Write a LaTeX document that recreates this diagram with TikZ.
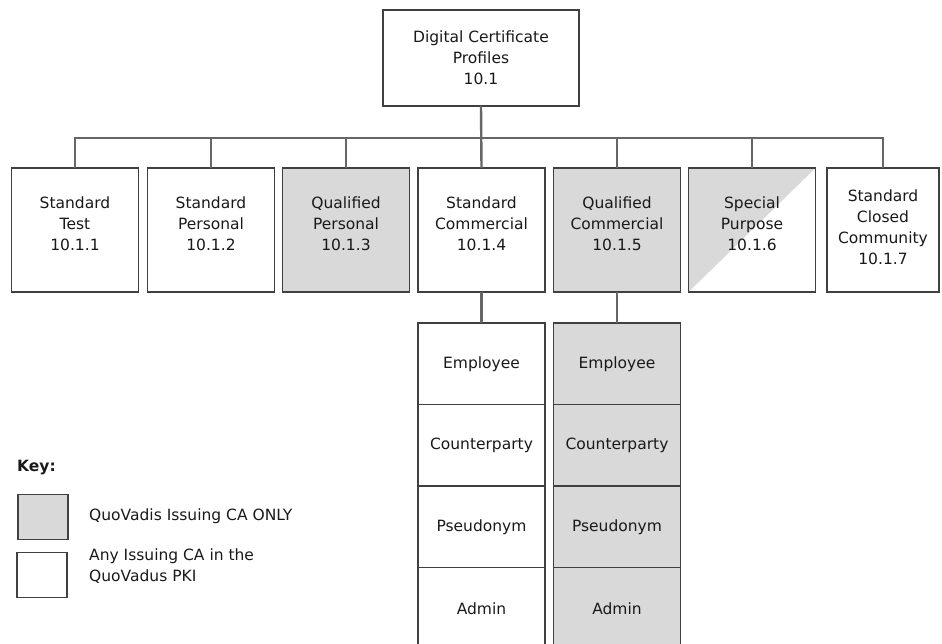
\documentclass[tikz,border=0pt]{standalone}
\usepackage{fontspec}
\setmainfont{DejaVu Sans}
\usetikzlibrary{positioning}

\begin{document}
\begin{tikzpicture}[x=1pt,y=-1pt,
    every node/.style={font=\fontsize{15.5}{21}\selectfont,text=black!90},
    box/.style={draw=black!75,line width=1.6pt,fill=white,align=center,
                minimum width=127pt,minimum height=124pt,inner sep=0pt,outer sep=0pt},
    qv/.style={fill=black!15},
    cell/.style={box,minimum height=81.5pt},
    conn/.style={draw=black!60,line width=2.4pt}]
\useasboundingbox (0,0) rectangle (942,644);
% root and profiles
\node[box,minimum width=196pt,minimum height=96pt] (root) at (481,58) {Digital Certificate\\Profiles\\10.1};
\coordinate (bus) at (0,138);
\node[box] (test) at (75,230) {Standard\\Test\\10.1.1\\[-9pt]};
\node[box] (stdpers) at (211,230) {Standard\\Personal\\10.1.2\\[-9pt]};
\node[box,qv] (qualpers) at (346,230) {Qualified\\Personal\\10.1.3\\[-9pt]};
\node[box] (stdcomm) at (481.5,230) {Standard\\Commercial\\10.1.4\\[-9pt]};
\node[box,qv] (qualcomm) at (617,230) {Qualified\\Commercial\\10.1.5\\[-9pt]};
\node[box,path picture={\fill[black!15] (path picture bounding box.south west) -- (path picture bounding box.north east) -- (path picture bounding box.north west) -- cycle;}] (special) at (752,230) {Special\\Purpose\\10.1.6\\[-9pt]};
\node[box,minimum width=112pt] (closed) at (883,230) {Standard\\Closed\\Community\\10.1.7\\[-15pt]};
\draw[conn] (root.south) |- (test.north |- bus) -- (test.north);
\draw[conn] (root.south) |- (stdpers.north |- bus) -- (stdpers.north);
\draw[conn] (root.south) |- (qualpers.north |- bus) -- (qualpers.north);
\draw[conn] (root.south) -- (stdcomm.north);
\draw[conn] (root.south) |- (qualcomm.north |- bus) -- (qualcomm.north);
\draw[conn] (root.south) |- (special.north |- bus) -- (special.north);
\draw[conn] (root.south) |- (closed.north |- bus) -- (closed.north);
% sub profiles
\node[cell,below=31pt of stdcomm] (stdemp) {Employee};
\node[cell,below=0pt of stdemp] (stdcounter) {Counterparty};
\node[cell,below=0pt of stdcounter] (stdpseudo) {Pseudonym};
\node[cell,below=0pt of stdpseudo] (stdadmin) {Admin};
\node[cell,qv,below=31pt of qualcomm] (qualemp) {Employee};
\node[cell,qv,below=0pt of qualemp] (qualcounter) {Counterparty};
\node[cell,qv,below=0pt of qualcounter] (qualpseudo) {Pseudonym};
\node[cell,qv,below=0pt of qualpseudo] (qualadmin) {Admin};
\draw[conn] (stdcomm.south) -- (stdemp.north);
\draw[conn] (qualcomm.south) -- (qualemp.north);
% key
\node[anchor=west,inner sep=0pt,font=\fontsize{15.5}{21}\selectfont\bfseries] (key) at (17,468) {Key:};
\node[box,qv,minimum width=50pt,minimum height=45pt] (keyqv) at (43,517) {};
\node[box,minimum width=50pt,minimum height=45pt] (keyany) at (42,575) {};
\node[anchor=west,inner sep=0pt] (keyqvtext) at (89,516) {QuoVadis Issuing CA ONLY};
\node[anchor=west,inner sep=0pt,align=left] (keyanytext) at (89,566) {Any Issuing CA in the\\QuoVadus PKI};
\end{tikzpicture}
\end{document}
